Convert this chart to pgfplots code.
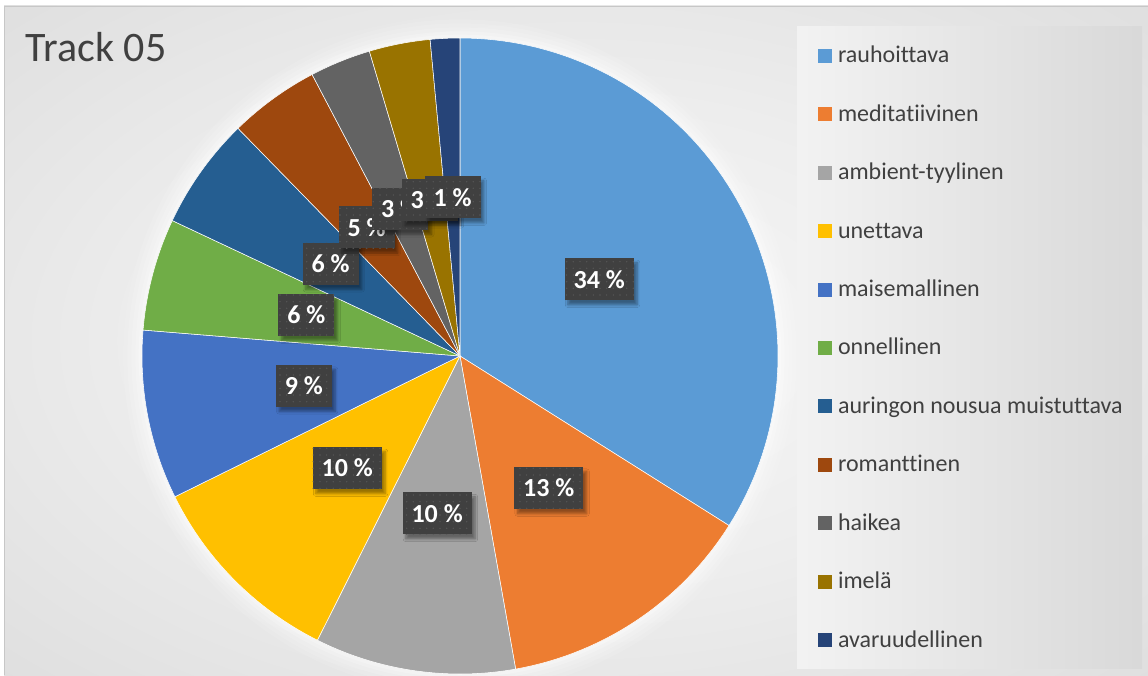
\documentclass[border=0pt]{standalone}
\usepackage{pgfplots}
\pgfplotsset{compat=1.18}
\usepackage{fontspec}
\setmainfont{Carlito}[Ligatures=CommonOff]
\usetikzlibrary{shadows.blur,patterns.meta}

\definecolor{cA}{HTML}{5B9BD5}
\definecolor{cB}{HTML}{ED7D31}
\definecolor{cC}{HTML}{A5A5A5}
\definecolor{cD}{HTML}{FFC000}
\definecolor{cE}{HTML}{4472C4}
\definecolor{cF}{HTML}{70AD47}
\definecolor{cG}{HTML}{255E91}
\definecolor{cH}{HTML}{9E480E}
\definecolor{cI}{HTML}{636363}
\definecolor{cJ}{HTML}{997300}
\definecolor{cK}{HTML}{264478}
\definecolor{textgray}{HTML}{404040}
\definecolor{lblgray}{HTML}{404040}
\definecolor{lbldot}{HTML}{565656}
\definecolor{bgedge}{HTML}{C2C2C2}

% slice values (percent of answers), clockwise from the top
\def\vA{33.95}\def\vB{13.25}\def\vC{10.2}\def\vD{10.3}\def\vE{8.6}
\def\vF{5.7}\def\vG{5.7}\def\vH{4.6}\def\vI{3.1}\def\vJ{3.1}\def\vK{1.5}

\gdef\cum{0}
\newcommand\slice[3]{%
  \pgfmathsetmacro\sa{90-3.6*\cum}%
  \pgfmathsetmacro\newcum{\cum+#1}\global\let\cum\newcum
  \pgfmathsetmacro\sb{90-3.6*\cum}%
  \edef\tmp{\noexpand\addplot[fill=#2,draw=white,line width=0.4pt,domain=\sb:\sa,samples=80] ({cos(x)},{sin(x)}) -- (axis cs:0,0) -- cycle;}\tmp
  \addlegendentry{#3}%
}
\newcommand\slicelabel[2]{%
  \pgfmathsetmacro\smid{90-3.6*(\cum+#1/2)}%
  \pgfmathsetmacro\newcum{\cum+#1}\global\let\cum\newcum
  \pgfmathsetmacro\mx{0.5*cos(\smid)}\pgfmathsetmacro\my{0.5*sin(\smid)}%
  \edef\tmp{\noexpand\node[lbl] at (axis cs:\mx,\my)}\tmp{#2};%
}

\pgfdeclareradialshading{bgshade}{\pgfpoint{0bp}{0bp}}{color(0bp)=(white!97!black); color(18bp)=(white!93!black); color(72bp)=(bgedge)}

\begin{document}
\begin{tikzpicture}[
  lbl/.style={fill=lblgray, text=white, font=\bfseries\fontsize{19.5}{22}\selectfont,
    inner xsep=6.75pt, inner ysep=0pt, minimum height=31.5pt,
    blur shadow={shadow xshift=2.5pt, shadow yshift=-3.5pt, shadow opacity=40, shadow blur steps=6, shadow blur radius=2pt},
    postaction={pattern={Dots[distance=5pt,radius=0.6pt]}, pattern color=lbldot}}]
% page and chart area
\fill[white] (0,0) rectangle (861pt,506.25pt);
\shade[shading=bgshade] (3pt,0pt) rectangle (861pt,501.75pt);
\draw[color=black!22, line width=0.6pt] (3pt,0pt) -- (3pt,501.75pt) -- (861pt,501.75pt);
% legend panel
\shade[left color=white!95!black, right color=white!85!black] (597.75pt,5.25pt) rectangle (856.5pt,486pt);
% soft white glow round the pie
\foreach \r/\o in {14/0.10,11/0.12,8/0.15,5/0.2,2.5/0.25}{
  \fill[white, opacity=\o] (345pt,239.25pt) circle (238.5pt+\r pt);
}
% title
\node[anchor=base west, inner sep=0pt, text=textgray, font=\fontsize{31.5}{35}\selectfont] at (19pt,459.75pt) {Track 05};

\begin{axis}[
  scale only axis, width=477pt, height=477pt,
  at={(345pt,239.25pt)}, anchor=center,
  xmin=-1, xmax=1, ymin=-1, ymax=1,
  hide axis, clip=false,
  legend cell align=left,
  legend image code/.code={\fill[#1,draw=none] (0pt,-5.25pt) rectangle (10.5pt,5.25pt);},
  legend style={at={(axis description cs:1.0629,0.989)}, anchor=north west,
    draw=none, fill=none, inner sep=0pt, outer sep=0pt,
    row sep=27.3pt, /tikz/column sep=4.5pt,
    font=\fontsize{18}{20}\selectfont, text=textgray,
    nodes={inner sep=0pt, text height=13.5pt, text depth=3pt}},
]
\slice{\vA}{cA}{rauhoittava}
\slice{\vB}{cB}{meditatiivinen}
\slice{\vC}{cC}{ambient-tyylinen}
\slice{\vD}{cD}{unettava}
\slice{\vE}{cE}{maisemallinen}
\slice{\vF}{cF}{onnellinen}
\slice{\vG}{cG}{auringon nousua muistuttava}
\slice{\vH}{cH}{romanttinen}
\slice{\vI}{cI}{haikea}
\slice{\vJ}{cJ}{imelä}
\slice{\vK}{cK}{avaruudellinen}
\gdef\cum{0}
\slicelabel{\vA}{34 \%}
\slicelabel{\vB}{13 \%}
\slicelabel{\vC}{10 \%}
\slicelabel{\vD}{10 \%}
\slicelabel{\vE}{9 \%}
\slicelabel{\vF}{6 \%}
\slicelabel{\vG}{6 \%}
\slicelabel{\vH}{5 \%}
\slicelabel{\vI}{3 \%}
\slicelabel{\vJ}{3 \%}
\slicelabel{\vK}{1 \%}
\end{axis}
\pgfresetboundingbox
\path[use as bounding box] (0,0) rectangle (861pt,506.25pt);
\end{tikzpicture}
\end{document}
